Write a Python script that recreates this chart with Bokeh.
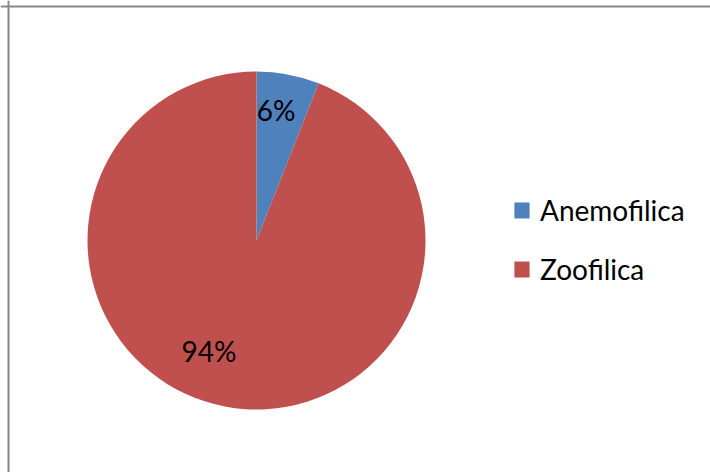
import math
from bokeh.plotting import figure
from bokeh.models import Range1d, Span, Legend, LegendItem, ColumnDataSource
from bokeh.core.properties import value
from bokeh.embed import file_html
from bokeh.resources import INLINE

# ---- data ----
categories = ["Anemofilica", "Zoofilica"]
shares = [6, 94]
labels = ["6%", "94%"]
colors = ["#4F81BD", "#C0504D"]

W, H = 710, 472
p = figure(width=W, height=H, output_backend="svg", toolbar_location=None,
           x_range=Range1d(0, W), y_range=Range1d(0, H), min_border=0)
p.axis.visible = False
p.grid.visible = False
p.outline_line_color = None
p.background_fill_color = "white"
p.border_fill_color = "white"

# pie geometry
cx, cy, r = 256, 232, 169
total = sum(shares)
start = math.pi / 2
starts, ends, mids = [], [], []
for s in shares:
    a = 2 * math.pi * s / total
    starts.append(start)
    ends.append(start - a)
    mids.append(start - a / 2)
    start -= a

src = ColumnDataSource(dict(cat=categories, start=starts, end=ends, color=colors))
wr = p.wedge(x=cx, y=cy, radius=r, start_angle="start", end_angle="end",
             direction="clock", fill_color="color", line_color=None, source=src)

# data labels (best-fit style offsets)
lbl_frac = [0.772, 0.723]
lbl_shift = [0.038, -0.211]
lx = [cx + f * r * math.cos(m + d) for f, m, d in zip(lbl_frac, mids, lbl_shift)]
ly = [cy + f * r * math.sin(m + d) + 2 for f, m, d in zip(lbl_frac, mids, lbl_shift)]
p.text(x=lx, y=ly, text=labels, text_font=value("Lato"), text_font_size="28px",
       text_color="#000000", text_align="center", text_baseline="middle")

items = [LegendItem(label=c, renderers=[wr], index=i) for i, c in enumerate(categories)]
legend = Legend(items=items, location=(512, 186), orientation="vertical",
                padding=0, margin=0, border_line_color=None, background_fill_alpha=0,
                glyph_width=19, glyph_height=20, label_standoff=9, spacing=25,
                label_text_font="Lato", label_text_font_size="28px",
                label_text_color="#000000")
p.add_layout(legend)

# chart-area border (top and left visible)
p.add_layout(Span(location=8, dimension="height", line_color="#878787", line_width=2))
p.add_layout(Span(location=466, dimension="width", line_color="#878787", line_width=2))

open("out.html", "w").write(file_html(p, INLINE))
